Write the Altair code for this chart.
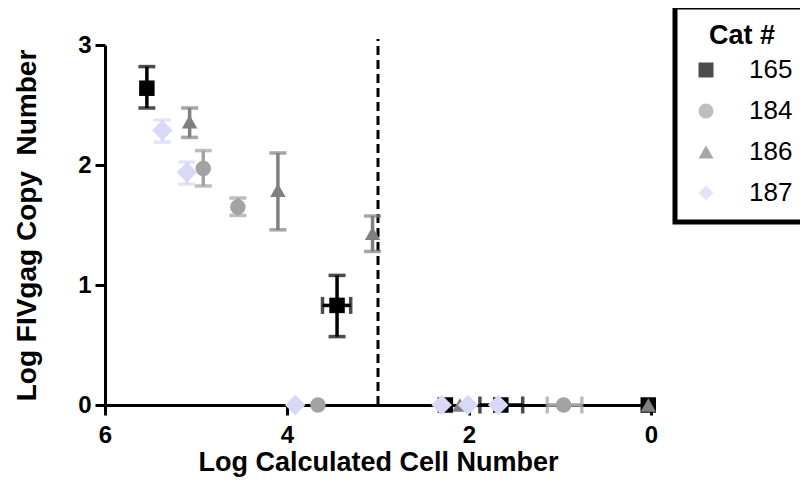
import altair as alt
import pandas as pd

# ---- data ----
series = ["165", "184", "186", "187"]
series_colors = ["#000000", "#a3a3a6", "#808080", "#d9d9f7"]
series_shapes = ["square", "circle", "triangle-up", "diamond"]

pt_cat = ["165", "165", "165", "165", "165",
          "184", "184", "184", "184",
          "186", "186", "186", "186", "186",
          "187", "187", "187", "187", "187", "187"]
pt_x = [5.54, 3.45, 2.26, 1.65, 0.03,
        4.92, 4.54, 3.66, 0.96,
        5.07, 4.10, 3.06, 2.10, 0.03,
        5.37, 5.10, 3.91, 2.30, 2.01, 1.68]
pt_y = [2.64, 0.83, 0.0, 0.0, 0.0,
        1.97, 1.65, 0.0, 0.0,
        2.36, 1.79, 1.43, 0.0, 0.0,
        2.29, 1.94, 0.0, 0.0, 0.0, 0.0]

# vertical (y) error bars
yerr_cat = ["165", "165", "184", "184", "186", "186", "186", "187", "187"]
yerr_x = [5.54, 3.45, 4.92, 4.54, 5.07, 4.10, 3.06, 5.37, 5.10]
yerr_lo = [2.475, 0.57, 1.825, 1.58, 2.23, 1.46, 1.28, 2.19, 1.84]
yerr_hi = [2.82, 1.08, 2.12, 1.725, 2.475, 2.10, 1.575, 2.375, 2.025]

# horizontal (x) error bars
xerr_cat = ["165", "165", "184"]
xerr_y = [0.83, 0.0, 0.0]
xerr_lo = [3.30, 1.41, 0.76]
xerr_hi = [3.61, 1.88, 1.14]

cutoff_x = [3.0]
cutoff_y = [0.0]
cutoff_y2 = [3.05]

x_ticks = [0, 2, 4, 6]
y_ticks = [0, 1, 2, 3]

# ---- tables ----
col_of = dict(zip(series, series_colors))
pts = pd.DataFrame({"Cat": pt_cat, "x": pt_x, "y": pt_y})
yerr = pd.DataFrame({"Cat": yerr_cat, "x": yerr_x, "lo": yerr_lo, "hi": yerr_hi})
yerr["col"] = yerr["Cat"].map(col_of)
xerr = pd.DataFrame({"Cat": xerr_cat, "y": xerr_y, "lo": xerr_lo, "hi": xerr_hi})
xerr["col"] = xerr["Cat"].map(col_of)
cut = pd.DataFrame({"x": cutoff_x, "y": cutoff_y, "y2": cutoff_y2})

FONT = "Liberation Sans"

xscale = alt.Scale(domain=[0, 6], reverse=True, nice=False, zero=False)
yscale = alt.Scale(domain=[0, 3], nice=False, zero=False)

xaxis = alt.Axis(values=x_ticks, title="Log Calculated Cell Number", format="d")
yaxis = alt.Axis(values=y_ticks, title="Log FIVgag Copy\u00a0 Number", format="d")

X = alt.X("x:Q", scale=xscale, axis=xaxis)
Y = alt.Y("y:Q", scale=yscale, axis=yaxis)

cutline = alt.Chart(cut).mark_rule(
    color="black", strokeWidth=3, strokeDash=[9, 5]
).encode(x=X, y=alt.Y("y:Q", scale=yscale, axis=yaxis), y2="y2:Q")

ybars = alt.Chart(yerr).mark_rule(strokeWidth=3.5).encode(
    x=alt.X("x:Q", scale=xscale, axis=xaxis),
    y=alt.Y("lo:Q", scale=yscale, axis=yaxis),
    y2="hi:Q",
    color=alt.Color("col:N", scale=None),
)
ycap_lo = alt.Chart(yerr).mark_tick(orient="horizontal", size=17, thickness=3.5).encode(
    x=alt.X("x:Q", scale=xscale, axis=xaxis),
    y=alt.Y("lo:Q", scale=yscale, axis=yaxis),
    color=alt.Color("col:N", scale=None),
)
ycap_hi = alt.Chart(yerr).mark_tick(orient="horizontal", size=17, thickness=3.5).encode(
    x=alt.X("x:Q", scale=xscale, axis=xaxis),
    y=alt.Y("hi:Q", scale=yscale, axis=yaxis),
    color=alt.Color("col:N", scale=None),
)
xbars = alt.Chart(xerr).mark_rule(strokeWidth=3.5).encode(
    x=alt.X("lo:Q", scale=xscale, axis=xaxis),
    x2="hi:Q",
    y=alt.Y("y:Q", scale=yscale, axis=yaxis),
    color=alt.Color("col:N", scale=None),
)
xcap_lo = alt.Chart(xerr).mark_tick(orient="vertical", size=17, thickness=3.5).encode(
    x=alt.X("lo:Q", scale=xscale, axis=xaxis),
    y=alt.Y("y:Q", scale=yscale, axis=yaxis),
    color=alt.Color("col:N", scale=None),
)
xcap_hi = alt.Chart(xerr).mark_tick(orient="vertical", size=17, thickness=3.5).encode(
    x=alt.X("hi:Q", scale=xscale, axis=xaxis),
    y=alt.Y("y:Q", scale=yscale, axis=yaxis),
    color=alt.Color("col:N", scale=None),
)

points = alt.Chart(pts).mark_point(filled=True, opacity=1, strokeWidth=0, size=240).encode(
    x=X,
    y=Y,
    color=alt.Color("Cat:N", scale=alt.Scale(domain=series, range=series_colors),
                    legend=alt.Legend(title="Cat #")),
    shape=alt.Shape("Cat:N", scale=alt.Scale(domain=series, range=series_shapes)),
)

# larger diamonds for series 187, drawn on top
diamonds = alt.Chart(pts).transform_filter(
    alt.datum.Cat == series[3]
).mark_point(
    filled=True, opacity=1, strokeWidth=0, size=420, shape=series_shapes[3], color=series_colors[3]
).encode(x=X, y=Y)

chart = alt.layer(
    cutline, ybars, ycap_lo, ycap_hi, xbars, xcap_lo, xcap_hi, points, diamonds
).properties(
    width=546,
    height=360,
    autosize=alt.AutoSizeParams(type="none"),
    padding={"left": 97, "top": 37, "right": 149, "bottom": 76},
    background="white",
).configure_view(
    stroke=None
).configure_axis(
    grid=False,
    domainColor="black",
    domainWidth=3,
    tickColor="black",
    tickWidth=3,
    tickSize=10,
    labelFont=FONT,
    labelFontSize=24,
    labelFontWeight="bold",
    labelColor="black",
    titleFont=FONT,
    titleFontSize=28,
    titleFontWeight="bold",
    titleColor="black",
).configure_axisX(
    labelPadding=8,
    titlePadding=2,
    titleFontSize=27,
    labelFlush=False,
).configure_axisY(
    labelPadding=4,
    titlePadding=36,
).configure_legend(
    orient="none",
    legendX=570,
    legendY=-38,
    strokeColor="black",
    strokeWidth=5,
    padding=16,
    titleFont=FONT,
    titleFontSize=27,
    titleFontWeight="bold",
    titleColor="black",
    titlePadding=7,
    titleAnchor="middle",
    labelFont=FONT,
    labelFontSize=26,
    labelColor="black",
    labelOffset=30,
    symbolOffset=2,
    symbolSize=225,
    symbolStrokeWidth=0,
    rowPadding=15,
)

chart.save("out.html", embed_options={"renderer": "svg", "actions": False})
